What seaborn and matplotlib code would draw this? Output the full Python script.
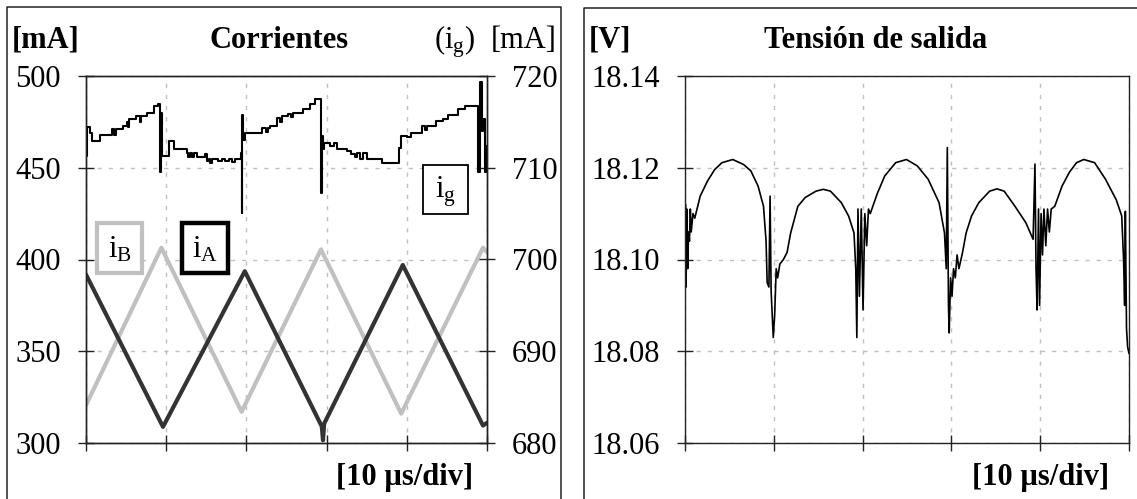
import numpy as np
import matplotlib.pyplot as plt
import matplotlib.ticker as mticker
from matplotlib.lines import Line2D
from matplotlib.patches import Rectangle
import seaborn as sns

# ─────────────────────────────────────────
# DATA (time in µs, 10 µs/div)
# ─────────────────────────────────────────
t_ia = [0.0, 9.6, 19.8, 29.4, 29.55, 29.7, 39.5, 49.5, 50.0]
i_a  = [391.8, 308.8, 393.6, 309.0, 301.5, 310.6, 397.0, 309.5, 311.0]

t_ib = [0.0, 9.4, 19.4, 29.3, 39.3, 49.5, 50.0]
i_b  = [320.6, 406.4, 317.0, 405.5, 316.0, 406.4, 404.0]

t_ig = [0.0, 0.15, 0.45, 0.8, 1.7, 3.2, 3.5, 3.7, 4.6, 5.1, 5.25, 5.4, 6.2, 6.7,
        6.85, 7.6, 8.45, 9.0, 9.25, 9.35, 9.45, 10.35, 10.95, 12.55, 12.75, 13.0,
        13.2, 13.5, 13.8, 14.8, 15.1, 15.3, 15.5, 15.7, 16.5, 17.0, 17.3, 17.8,
        18.2, 18.6, 19.3, 19.42, 19.5, 19.6, 19.8, 22.0, 22.5, 22.7, 23.0, 23.8,
        24.2, 24.4, 25.2, 25.6, 25.8, 27.0, 27.9, 28.6, 29.25, 29.35, 29.45, 29.55,
        29.7, 30.4, 30.9, 31.3, 32.5, 33.0, 33.5, 33.8, 34.2, 34.5, 35.0, 36.9,
        39.0, 39.3, 40.0, 40.5, 41.9, 42.3, 42.5, 43.7, 44.5, 45.1, 46.4, 47.3,
        48.9, 49.15, 49.35, 49.55, 49.75, 49.9, 50.0]
i_g  = [711.3, 714.4, 713.8, 712.9, 713.6, 714.2, 713.6, 714.2, 714.6, 715.0,
        714.4, 715.3, 715.6, 715.0, 715.6, 716.0, 716.7, 716.9, 709.5, 716.0,
        711.3, 712.9, 712.0, 711.6, 711.2, 711.6, 711.2, 711.6, 711.2, 711.5,
        710.7, 711.0, 710.5, 711.0, 710.7, 711.0, 710.7, 711.0, 710.6, 711.0,
        711.6, 705.1, 715.8, 713.0, 713.8, 714.3, 713.9, 714.3, 714.6, 715.4,
        715.0, 715.6, 715.9, 715.5, 716.0, 716.4, 716.9, 717.5, 711.5, 707.3,
        713.5, 712.0, 712.7, 712.4, 712.7, 712.0, 711.8, 711.5, 711.2, 711.6,
        711.0, 711.6, 710.9, 710.5, 712.2, 713.5, 713.3, 713.8, 714.5, 714.1,
        714.6, 715.1, 715.3, 715.8, 716.4, 716.7, 709.5, 719.3, 714.0, 715.3,
        709.5, 712.4, 712.4]

t_v = [0.0, 0.05, 0.12, 0.2, 0.3, 0.4, 0.5, 0.6, 0.7, 0.9, 1.1, 1.71, 2.53, 3.34,
       4.16, 5.38, 6.60, 7.42, 8.23, 8.84, 9.13, 9.25, 9.45, 9.58, 9.70, 9.94,
       10.1, 10.27, 10.43, 10.68, 11.08, 11.49, 11.9, 12.71, 13.53, 14.75, 15.57,
       16.38, 17.6, 18.42, 19.03, 19.23, 19.35, 19.48, 19.64, 19.85, 20.05, 20.25,
       20.46, 20.66, 20.86, 21.68, 22.49, 23.72, 24.94, 26.16, 27.38, 28.61, 29.22,
       29.42, 29.54, 29.67, 29.75, 29.91, 30.07, 30.24, 30.44, 30.64, 30.85, 31.25,
       31.66, 32.27, 33.09, 34.31, 35.13, 35.94, 37.16, 38.39, 39.2, 39.41, 39.53,
       39.65, 39.81, 39.93, 40.1, 40.26, 40.42, 40.63, 40.83, 41.03, 41.24, 41.64,
       42.46, 43.28, 44.09, 44.91, 46.13, 47.35, 48.57, 49.18, 49.39, 49.51, 49.59,
       49.72, 49.84, 50.0]
v_out = [18.100, 18.112, 18.094, 18.111, 18.098, 18.106, 18.104, 18.111, 18.106,
         18.110, 18.109, 18.1138, 18.1171, 18.1196, 18.1211, 18.1218, 18.1207,
         18.1193, 18.116, 18.1116, 18.104, 18.095, 18.094, 18.1138, 18.093, 18.083,
         18.088, 18.098, 18.096, 18.099, 18.100, 18.1015, 18.1058, 18.1116, 18.1135,
         18.1149, 18.1153, 18.1149, 18.1124, 18.1095, 18.1058, 18.098, 18.083,
         18.111, 18.092, 18.111, 18.089, 18.110, 18.103, 18.111, 18.110, 18.1145,
         18.1182, 18.1211, 18.1218, 18.1204, 18.1175, 18.1124, 18.1058, 18.098,
         18.1244, 18.090, 18.084, 18.096, 18.092, 18.098, 18.096, 18.101, 18.098,
         18.1015, 18.1058, 18.1095, 18.1124, 18.1149, 18.1154, 18.1149, 18.1116,
         18.108, 18.1044, 18.1208, 18.098, 18.089, 18.111, 18.090, 18.110, 18.101,
         18.111, 18.103, 18.111, 18.106, 18.111, 18.1116, 18.116, 18.119, 18.1211,
         18.1218, 18.1211, 18.1175, 18.113, 18.1095, 18.100, 18.090, 18.1105,
         18.085, 18.081, 18.0795]

x_ticks = [0, 10, 20, 30, 40, 50]
yl_ticks = [300, 350, 400, 450, 500]
yr_ticks = [680, 690, 700, 710, 720]
v_ticks = [18.06, 18.08, 18.10, 18.12, 18.14]

# ─────────────────────────────────────────
# STYLE
# ─────────────────────────────────────────
sns.set_style("ticks")
plt.rcParams['font.family'] = ['Liberation Serif', 'DejaVu Serif']
plt.rcParams['mathtext.fontset'] = 'custom'
plt.rcParams['mathtext.rm'] = 'Liberation Serif'
plt.rcParams['mathtext.it'] = 'Liberation Serif:italic'
plt.rcParams['mathtext.bf'] = 'Liberation Serif:bold'
plt.rcParams['text.color'] = 'black'

W, H = 1137, 499
FS = 22
GRID = '#c0c0c0'

fig = plt.figure(figsize=(W / 100, H / 100), dpi=100)


def px_box(x0, y0, x1, y1):
    return [x0 / W, 1 - y1 / H, (x1 - x0) / W, (y1 - y0) / H]


def fx(x):
    return x / W


def fy(y):
    return 1 - y / H


ax1 = fig.add_axes(px_box(86, 76, 487, 443))
ax1b = ax1.twinx()
ax2 = fig.add_axes(px_box(685, 76, 1129, 443))

# ─────────────────────────────────────────
# LEFT — CORRIENTES
# ─────────────────────────────────────────
sns.lineplot(x=t_ib, y=i_b, ax=ax1, color='#c0c0c0', lw=3,
             estimator=None, sort=False)
sns.lineplot(x=t_ia, y=i_a, ax=ax1, color='#333333', lw=3,
             estimator=None, sort=False)
sns.lineplot(x=t_ig, y=i_g, ax=ax1b, color='black', lw=1.5,
             estimator=None, sort=False, drawstyle='steps-post')

ax1.set_ylim(300, 500)
ax1.set_yticks(yl_ticks)
ax1b.set_ylim(680, 720)
ax1b.set_yticks(yr_ticks)

# ─────────────────────────────────────────
# RIGHT — TENSION DE SALIDA
# ─────────────────────────────────────────
sns.lineplot(x=t_v, y=v_out, ax=ax2, color='black', lw=1.2,
             estimator=None, sort=False)
ax2.set_ylim(18.06, 18.14)
ax2.set_yticks(v_ticks)
ax2.yaxis.set_major_formatter(mticker.FormatStrFormatter('%.2f'))

for ax in [ax1, ax1b, ax2]:
    ax.set_xlim(0, 50)
    ax.set_xticks(x_ticks)
    ax.set_xticklabels([])
    ax.set_xlabel('')
    ax.set_ylabel('')
    for s in ax.spines.values():
        s.set_visible(True)
        s.set_color('#222222')
        s.set_linewidth(1.0)
    ax.tick_params(axis='both', direction='inout', length=12, width=1,
                   color='#222222', labelsize=FS, labelcolor='black', pad=12)

for ax in [ax1, ax2]:
    ax.tick_params(axis='y', left=True, right=False)
    ax.tick_params(axis='x', bottom=True, top=False)
    ax.grid(True, color=GRID, linestyle=(0, (3, 5)), lw=1)
    ax.set_axisbelow(True)
ax1b.tick_params(axis='y', right=True, left=False)

# ─────────────────────────────────────────
# FRAMES, TITLES, LABEL BOXES
# ─────────────────────────────────────────
fig.add_artist(Line2D([fx(7), fx(7), fx(561), fx(561)],
                      [fy(499), fy(7), fy(7), fy(499)],
                      color='#222222', lw=1.1))
fig.add_artist(Line2D([fx(584), fx(584), fx(1137)],
                      [fy(499), fy(8), fy(8)],
                      color='#222222', lw=1.1))

base = fy(48)
fig.text(fx(12), base, '[mA]', fontsize=FS, fontweight='bold', ha='left', va='baseline')
fig.text(fx(279), base, 'Corrientes', fontsize=FS, fontweight='bold', ha='center', va='baseline')
fig.text(fx(455), base, r'$\mathrm{(i_g)}$', fontsize=FS, ha='center', va='baseline')
fig.text(fx(557), base, '[mA]', fontsize=FS, ha='right', va='baseline')
fig.text(fx(589), base, '[V]', fontsize=FS, fontweight='bold', ha='left', va='baseline')
fig.text(fx(876), base, 'Tensión de salida', fontsize=FS, fontweight='bold', ha='center', va='baseline')
fig.text(fx(473), fy(485), '[10 µs/div]', fontsize=FS, fontweight='bold', ha='right', va='baseline')
fig.text(fx(1109), fy(485), '[10 µs/div]', fontsize=FS, fontweight='bold', ha='right', va='baseline')

label_boxes = [
    (97, 223, 142, 273, '#c0c0c0', 3.0, r'$\mathrm{i_B}$'),
    (182, 223, 228, 273, 'black', 3.2, r'$\mathrm{i_A}$'),
    (423, 165, 468, 214, 'black', 1.3, r'$\mathrm{i_g}$'),
]
for x0, y0, x1, y1, ec, lw, lab in label_boxes:
    fig.add_artist(Rectangle((fx(x0), fy(y1)), (x1 - x0) / W, (y1 - y0) / H,
                             facecolor='white', edgecolor=ec, lw=lw, zorder=5))
    fig.text(fx((x0 + x1) / 2), fy((y0 + y1) / 2 + 2), lab, fontsize=FS,
             ha='center', va='center', zorder=6)

plt.savefig("out.png", dpi=100)
